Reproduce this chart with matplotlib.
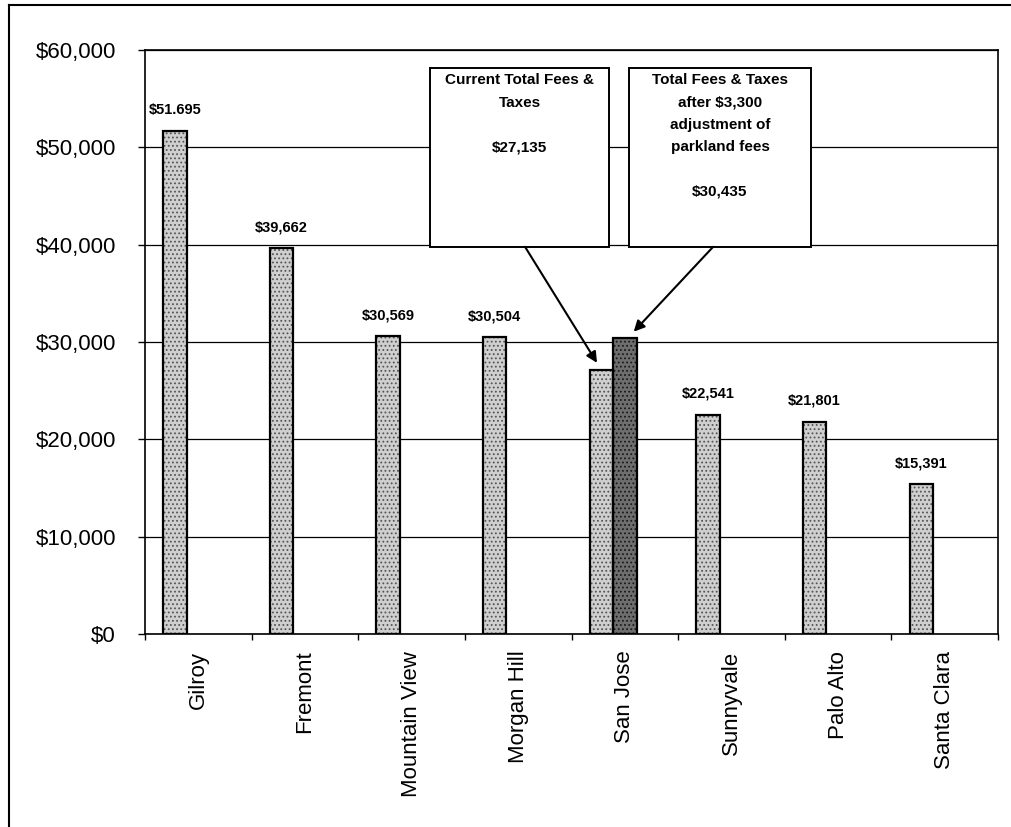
import numpy as np
import matplotlib
matplotlib.use('Agg')
import matplotlib.pyplot as plt
from matplotlib.lines import Line2D
from matplotlib.patches import Rectangle
from matplotlib.ticker import FuncFormatter, FixedLocator

plt.rcParams['font.family'] = ['Liberation Sans', 'DejaVu Sans']
plt.rcParams['hatch.linewidth'] = 0.8

# data
cities = ['Gilroy', 'Fremont', 'Mountain View', 'Morgan Hill', 'San Jose',
          'Sunnyvale', 'Palo Alto', 'Santa Clara']
fees = [51695, 39662, 30569, 30504, 27135, 22541, 21801, 15391]
value_labels = ['$51.695', '$39,662', '$30,569', '$30,504', None,
                '$22,541', '$21,801', '$15,391']
adjusted_city = 'San Jose'
adjusted_fee = 30435

box1_text = 'Current Total Fees &\nTaxes\n\n$27,135'
box2_text = 'Total Fees & Taxes\nafter $3,300\nadjustment of\nparkland fees\n\n$30,435'

fig = plt.figure(figsize=(10.12, 8.27), dpi=100)
ax = fig.add_axes([0.1433, 0.2334, 0.8429, 0.7061])

x = np.arange(len(cities))
w = 0.22
off1 = -0.22
off2 = 0.0

# stippled fill (hatch) then black outline
ax.bar(x + off1, fees, width=w, color='#cfcfcf', edgecolor='#555555',
       hatch='....', linewidth=0, zorder=2)
ax.bar(x + off1, fees, width=w, fill=False, edgecolor='black',
       linewidth=1.6, zorder=3)
j = cities.index(adjusted_city)
ax.bar(j + off2, adjusted_fee, width=w, color='#6e6e6e', edgecolor='#1a1a1a',
       hatch='....', linewidth=0, zorder=2)
ax.bar(j + off2, adjusted_fee, width=w, fill=False, edgecolor='black',
       linewidth=1.6, zorder=3)

for xi, v, lab in zip(x, fees, value_labels):
    if lab is None:
        continue
    ax.annotate(lab, (xi + off1, v), xytext=(0, 10), textcoords='offset points',
                ha='center', va='bottom', fontsize=10.5, fontweight='bold')

ax.set_xlim(-0.5, len(cities) - 0.5)
ax.set_ylim(0, 60000)
ax.set_yticks(np.arange(0, 60001, 10000))
ax.yaxis.set_major_formatter(FuncFormatter(lambda v, p: '${:,.0f}'.format(v)))
ax.tick_params(axis='y', labelsize=16, length=5, width=1, pad=16, direction='out')

ax.set_xticks(x)
ax.set_xticklabels(cities, rotation=90, fontsize=16)
ax.tick_params(axis='x', which='major', length=0, pad=12)
ax.xaxis.set_minor_locator(FixedLocator(np.arange(-0.5, len(cities), 1.0)))
ax.tick_params(axis='x', which='minor', length=4, width=1, direction='out')

ax.grid(axis='y', color='black', linewidth=0.9)
ax.set_axisbelow(True)
for s in ax.spines.values():
    s.set_linewidth(1.2)
    s.set_color('black')

# callout boxes
for (bx, bw, txt) in [(0.334, 0.210, box1_text), (0.567, 0.214, box2_text)]:
    ax.add_patch(Rectangle((bx, 0.663), bw, 0.306, transform=ax.transAxes,
                           facecolor='white', edgecolor='black', linewidth=1.4,
                           zorder=5))
    ax.text(bx + bw / 2, 0.960, txt, transform=ax.transAxes, ha='center',
            va='top', fontsize=11, fontweight='bold', linespacing=1.75,
            zorder=6)

arrow = dict(arrowstyle='-|>', color='black', lw=1.5, mutation_scale=16,
             shrinkA=0, shrinkB=6)
ax.annotate('', xy=(j + off1, fees[j]), xycoords='data',
            xytext=(0.4455, 0.663), textcoords='axes fraction',
            arrowprops=arrow, zorder=6)
ax.annotate('', xy=(j + off2 + 0.03, adjusted_fee), xycoords='data',
            xytext=(0.666, 0.663), textcoords='axes fraction',
            arrowprops=arrow, zorder=6)

# outer frame of the scanned page
fig.add_artist(Line2D([0.009, 0.009], [0.0, 0.994], color='black', lw=1.5))
fig.add_artist(Line2D([0.009, 1.0], [0.994, 0.994], color='black', lw=1.5))

fig.savefig('out.png', dpi=100)
